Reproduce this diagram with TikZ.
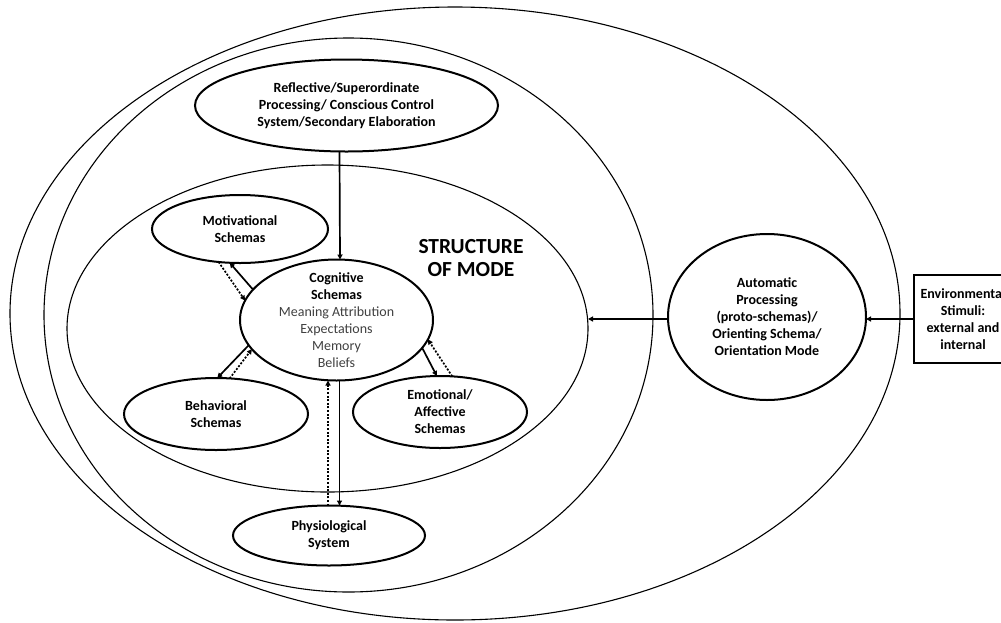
\documentclass[tikz,border=0pt]{standalone}
\usepackage{fontspec}
\setmainfont{Carlito}
\usetikzlibrary{shapes.geometric,arrows.meta}
\begin{document}
\begin{tikzpicture}[x=1pt,y=-1pt,
  ring/.style={draw, ellipse, line width=1.1pt, inner sep=0pt, outer sep=0pt},
  schema/.style={draw, ellipse, line width=2pt, inner xsep=-4pt, inner ysep=-12pt, outer sep=0pt,
     align=center, font=\fontsize{14}{17}\selectfont\bfseries},
  arr/.style={-{Triangle[length=5pt,width=5pt]}, line width=1.7pt},
  dotarr/.style={arr, dash pattern=on 2pt off 1.6pt},
  thin/.style={font=\fontsize{14}{16.5}\selectfont\mdseries, text=black!75}]
\useasboundingbox (0,0) rectangle (1001,622);
\begin{scope}
\clip (0,0) rectangle (1001,622);
% rings
\node[ring, minimum width=890pt, minimum height=613pt] (outer) at (455,313.5) {};
\node[ring, minimum width=609pt, minimum height=554pt] (mid) at (348.5,315) {};
\node[ring, minimum width=521pt, minimum height=327pt] (som) at (327.5,328.5) {};
% nodes
\node[schema, minimum width=303pt, minimum height=92pt] (refl) at (346.5,105.5)
  {Reflective/Superordinate\\Processing/ Conscious Control\\System/Secondary Elaboration};
\node[schema, minimum width=193pt, minimum height=121pt, inner ysep=-28pt] (cog) at (336.5,320)
  {Cognitive\\Schemas\\{\mdseries\color{black!75}Meaning Attribution}\\
   {\mdseries\color{black!75}Expectations}\\{\mdseries\color{black!75}Memory}\\{\mdseries\color{black!75}Beliefs}};
\node[schema, minimum width=176pt, minimum height=68pt] (mot) at (240,229) {Motivational\\Schemas};
\node[schema, minimum width=184pt, minimum height=72pt] (beh) at (216,414) {Behavioral\\Schemas};
\node[schema, minimum width=174pt, minimum height=72pt] (emo) at (440,412) {Emotional/\\Affective\\Schemas};
\node[schema, minimum width=192pt, minimum height=60pt] (phys) at (329,535.5) {Physiological\\System};
\node[schema, minimum width=198pt, minimum height=166pt] (auto) at (767,317)
  {Automatic\\Processing\\(proto-schemas)/\\Orienting Schema/\\Orientation Mode};
\node[draw, line width=2pt, minimum width=98pt, minimum height=88pt, inner sep=0pt, outer sep=0pt,
  align=center, font=\fontsize{14}{17}\selectfont\bfseries, anchor=west] (env) at (914,319)
  {Environmental\\Stimuli:\\external and\\internal};
\node[font=\fontsize{21.5}{23}\selectfont\bfseries, align=center] (title) at (471,258)
  {STRUCTURE\\OF MODE};
% connectors
\draw[arr] ([xshift=-7pt]refl.south) -- ([xshift=3.5pt]cog.north);
\draw[arr] (cog.160) -- (mot.-107);
\draw[dotarr] (mot.-123) -- (cog.168);
\draw[arr] (cog.196) -- (beh.88);
\draw[dotarr] (beh.69) -- (cog.199);
\draw[arr] (cog.-18) -- (emo.95);
\draw[dotarr] (emo.71) -- (cog.-12);
\draw[arr] ([xshift=3pt]cog.south) -- ([xshift=10.5pt]phys.north);
\draw[dotarr] ([xshift=-1pt]phys.north) -- ([xshift=-8.5pt]cog.south);
\draw[arr] (env.west) -- (env.west -| auto.east);
\draw[arr] (auto.west |- env.west) -- (env.west -| som.east);
\end{scope}
\end{tikzpicture}
\end{document}
